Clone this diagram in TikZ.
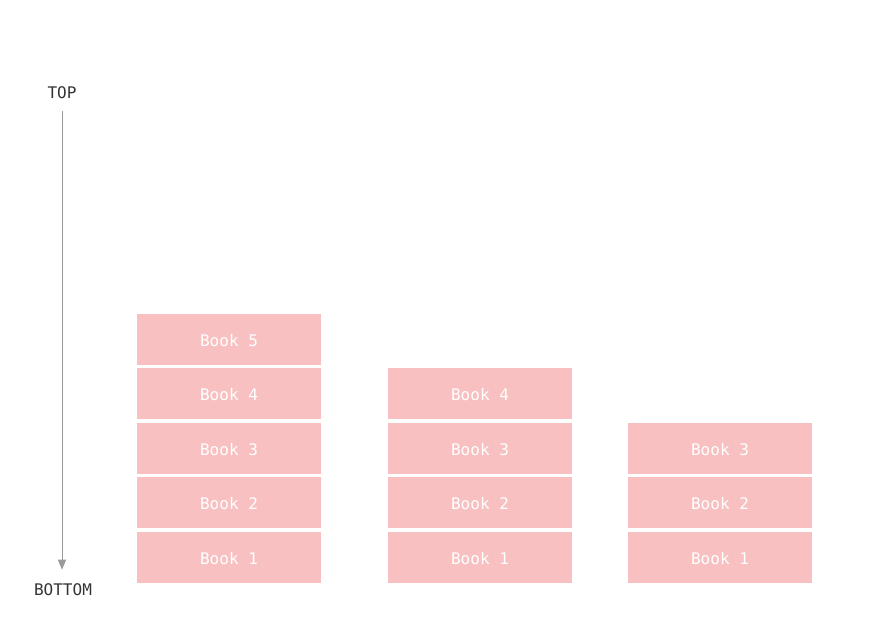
\documentclass[tikz,border=0pt]{standalone}
\usepackage{fontspec}
\setmonofont{DejaVu Sans Mono}
\usetikzlibrary{arrows.meta}
\definecolor{bookpink}{HTML}{F8C0C0}
\definecolor{axisgray}{HTML}{9A9A9A}
\definecolor{labelgray}{HTML}{333333}
\begin{document}
\begin{tikzpicture}[x=1pt, y=1pt,
  bookbox/.style={fill=bookpink, draw=none, minimum width=184pt, minimum height=51pt,
    inner sep=0pt, text height=13.5pt, text depth=0pt, text=white,
    font=\ttfamily\fontsize{16}{19}\selectfont},
  axislabel/.style={inner sep=0pt, text=labelgray, font=\ttfamily\fontsize{16}{19}\selectfont}]
  \useasboundingbox (0,0) rectangle (880,631);
  % the three stacks
  \foreach \col/\x/\n in {a/229/5, b/480/4, c/720/3}
    \foreach \i in {1,...,\n}
      \node[bookbox] (\col\i) at (\x, 73.5+54.5*\i-54.5) {Book \i};
  % top to bottom axis
  \node[axislabel] (top) at (62,538) {TOP};
  \node[axislabel] (bottom) at (63,41) {BOTTOM};
  \draw[axisgray, line width=1pt, -{Triangle[width=8pt,length=10pt]},
    shorten <=12pt, shorten >=14pt] (top.south -| 62,0) -- (bottom.north -| 62,0);
\end{tikzpicture}
\end{document}
